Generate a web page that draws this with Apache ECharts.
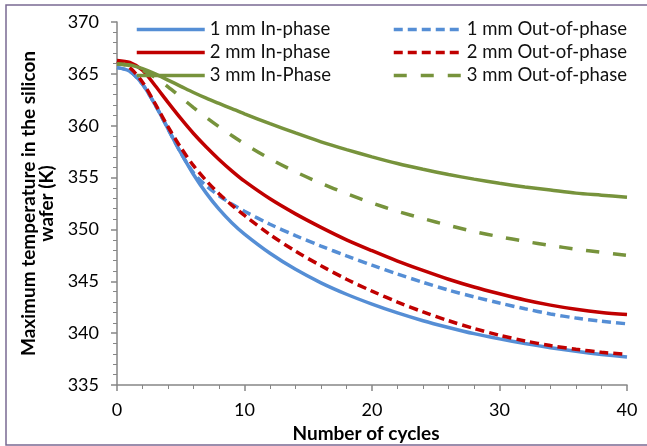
<!DOCTYPE html>
<html>
<head>
<meta charset="utf-8">
<script src="https://cdn.jsdelivr.net/npm/echarts@6/dist/echarts.min.js"></script>
<style>
html,body{margin:0;padding:0;background:#fff;}
#c{width:647px;height:446px;}
</style>
</head>
<body>
<div id="c"></div>
<script>
const cycles = [0,1,2,3,4,5,6,7,8,9,10,12,14,16,18,20,22,24,26,28,30,32,34,36,38,40];
const mm1In  = [365.6,365.25,364.0,362.0,359.7,357.4,355.3,353.5,351.95,350.65,349.55,347.7,346.15,344.85,343.75,342.8,341.95,341.2,340.55,339.95,339.45,339.0,338.6,338.25,337.95,337.7];
const mm1Out = [365.6,365.25,364.0,362.0,359.7,357.4,355.45,354.2,353.25,352.45,351.75,350.5,349.4,348.4,347.45,346.55,345.7,344.9,344.15,343.5,342.9,342.35,341.85,341.45,341.15,340.9];
const mm2In  = [366.3,366.1,365.35,363.85,362.25,360.7,359.25,357.95,356.75,355.65,354.65,352.95,351.5,350.2,349.0,347.95,346.95,346.05,345.2,344.45,343.8,343.2,342.7,342.3,342.0,341.8];
const mm2Out = [366.2,365.6,364.2,362.1,359.9,357.9,356.15,354.7,353.45,352.35,351.35,349.5,347.9,346.5,345.2,344.05,343.0,342.05,341.2,340.45,339.8,339.25,338.8,338.45,338.15,337.95];
const mm3In  = [365.95,365.85,365.5,365.0,364.4,363.8,363.2,362.65,362.15,361.65,361.15,360.2,359.3,358.45,357.7,357.0,356.35,355.8,355.3,354.85,354.45,354.1,353.8,353.5,353.3,353.1];
const mm3Out = [365.95,365.8,365.35,364.65,363.75,362.75,361.75,360.8,359.9,359.05,358.25,356.8,355.55,354.45,353.45,352.55,351.75,351.05,350.4,349.8,349.3,348.85,348.45,348.1,347.8,347.5];
const seriesNames = ['1 mm In-phase','1 mm Out-of-phase','2 mm In-phase','2 mm Out-of-phase','3 mm In-Phase','3 mm Out-of-phase'];
const xTitle = 'Number of cycles';
const yTitle = 'Maximum temperature in the silicon\nwafer (K)';

const BLUE = '#558ed5', RED = '#c00000', GREEN = '#77933c';
const FONT = 'Lato';
function pairs(v){ return cycles.map((c,i)=>[c, v[i]]); }
function mk(name, vals, color, dash){
  return {
    name, type:'line', data:pairs(vals), smooth:0.3, symbol:'none',
    lineStyle:{color, width:3.5, type: dash || 'solid', cap:'butt'},
    itemStyle:{color}
  };
}
const chart = echarts.init(document.getElementById('c'), null, {renderer:'canvas'});
const legendText = {fontFamily:FONT, fontSize:18.5, color:'#111'};
const legendCommon = {orient:'vertical', top:15, itemWidth:68, itemHeight:14, itemGap:4, textStyle:legendText,
  itemStyle:{opacity:0}, lineStyle:{width:3.5}};
chart.setOption({
  animation:false,
  backgroundColor:'#fff',
  graphic:[{type:'rect', shape:{x:6,y:5,width:660,height:440}, style:{fill:'none', stroke:'#7a6a92', lineWidth:1.5}, z:-1}],
  grid:{left:117, right:20, top:22, bottom:61, containLabel:false, outerBoundsMode:'none'},
  legend:[
    Object.assign({data:[seriesNames[0],seriesNames[2],seriesNames[4]], left:130}, legendCommon),
    Object.assign({data:[seriesNames[1],seriesNames[3],seriesNames[5]], left:387}, legendCommon)
  ],
  xAxis:{
    type:'value', min:0, max:40, interval:10,
    name:xTitle, nameLocation:'middle', nameGap:37,
    nameTextStyle:{fontFamily:FONT, fontSize:19, fontWeight:'bold', color:'#000', padding:[0,12,0,0]},
    axisLine:{lineStyle:{color:'#868686', width:1.5}},
    axisTick:{show:true, inside:false, length:6, lineStyle:{color:'#868686', width:1.5}},
    minorTick:{show:true, splitNumber:5, length:4, lineStyle:{color:'#868686', width:1}},
    splitLine:{show:false},
    axisLabel:{fontFamily:FONT, fontSize:18, color:'#000', margin:16}
  },
  yAxis:{
    type:'value', min:335, max:370, interval:5,
    name:yTitle, nameLocation:'middle', nameGap:60, nameRotate:90,
    nameTextStyle:{fontFamily:FONT, fontSize:19, fontWeight:'bold', color:'#000', lineHeight:18, align:'center'},
    axisLine:{show:true, lineStyle:{color:'#868686', width:1.5}},
    axisTick:{show:true, inside:false, length:6, lineStyle:{color:'#868686', width:1.5}},
    minorTick:{show:true, splitNumber:5, length:4, lineStyle:{color:'#868686', width:1}},
    splitLine:{show:false},
    axisLabel:{fontFamily:FONT, fontSize:18, color:'#000', margin:18}
  },
  series:[
    mk(seriesNames[0], mm1In, BLUE),
    mk(seriesNames[1], mm1Out, BLUE, [9,5]),
    mk(seriesNames[2], mm2In, RED),
    mk(seriesNames[3], mm2Out, RED, [9,5]),
    mk(seriesNames[4], mm3In, GREEN),
    mk(seriesNames[5], mm3Out, GREEN, [13,14])
  ]
});
</script>
</body>
</html>
